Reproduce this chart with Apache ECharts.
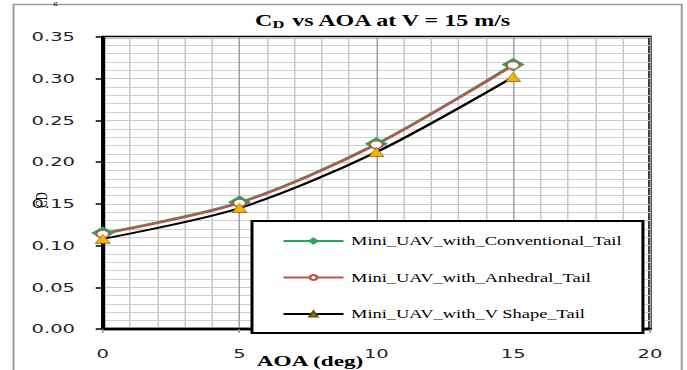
<!DOCTYPE html>
<html>
<head>
<meta charset="utf-8">
<title>CD vs AOA</title>
<script src="https://cdn.jsdelivr.net/npm/echarts@6.0.0/dist/echarts.min.js"></script>
<style>
  html, body { margin: 0; padding: 0; background: #fff; overflow: hidden; width: 687px; height: 370px; }
  /* the chart is laid out on a narrower canvas and widened horizontally */
  #chart { width: 458px; height: 370px; transform: scaleX(1.5); transform-origin: 0 0; }
</style>
</head>
<body>
<div id="chart"></div>
<script>
// Angle of attack (deg)
const aoa = [0, 5, 10, 15];
// Drag coefficient for each tail configuration
const cdConventional = [0.115, 0.152, 0.222, 0.317];
const cdAnhedral     = [0.114, 0.151, 0.221, 0.316];
const cdVShape       = [0.108, 0.145, 0.212, 0.302];

const seriesNames = [
  'Mini_UAV_with_Conventional_Tail',
  'Mini_UAV_with_Anhedral_Tail',
  'Mini_UAV_with_V Shape_Tail'
];

const pairs = (ys) => aoa.map((x, i) => [x, ys[i]]);

const chart = echarts.init(document.getElementById('chart'), null, { renderer: 'svg' });

const serif = "'Liberation Serif', 'Times New Roman', serif";

chart.setOption({
  animation: false,
  backgroundColor: '#fff',
  grid: {
    left: 68.5, right: 24.7, top: 37, bottom: 41,
    show: true, borderColor: '#000', borderWidth: 2.3, backgroundColor: 'transparent'
  },
  graphic: [
    { type: 'rect', z: -10, silent: true,
      shape: { x: 9, y: 4.5, width: 445.5, height: 400 },
      style: { fill: 'none', stroke: '#9a9a9a', lineWidth: 1.3 } },
    { type: 'text', x: 37, y: 0, silent: true,
      style: { text: 'g', font: '6px ' + serif, fill: '#000', align: 'center', verticalAlign: 'top' } },
    { type: 'text', x: 255.7, y: 21, silent: true,
      style: {
        text: '{a|C}{b|D}{a| vs AOA at V = 15 m/s}',
        align: 'center', verticalAlign: 'middle', fill: '#000',
        rich: {
          a: { fontFamily: 'Liberation Serif', fontWeight: 'bold', fontSize: 16, lineHeight: 18, fill: '#000' },
          b: { fontFamily: 'Liberation Serif', fontWeight: 'bold', fontSize: 11, lineHeight: 11, verticalAlign: 'bottom', fill: '#000' }
        }
      } },
    { type: 'text', x: 206.7, y: 361, silent: true,
      style: { text: 'AOA (deg)', font: 'bold 15.5px ' + serif, fill: '#000', align: 'center', verticalAlign: 'middle' } },
    { type: 'text', x: 28, y: 200, rotation: Math.PI / 2, silent: true,
      style: { text: 'CD', font: '11px ' + serif, fill: '#000', align: 'center', verticalAlign: 'middle' } }
  ],
  legend: {
    orient: 'vertical',
    left: 168, top: 221,
    padding: [13, 14, 12, 20],
    itemWidth: 40, itemHeight: 6, itemGap: 22.5,
    backgroundColor: '#fff',
    borderColor: '#000', borderWidth: 2,
    z: 10,
    textStyle: { fontFamily: 'Liberation Serif', fontSize: 12.3, color: '#000', lineHeight: 14 },
    data: seriesNames
  },
  xAxis: {
    type: 'value', min: 0, max: 20, interval: 5,
    axisLine: { show: true, onZero: false, lineStyle: { color: '#000', width: 2.3 } },
    axisTick: { show: true, length: 4, lineStyle: { color: '#999', width: 1 } },
    axisLabel: { margin: 18, fontFamily: 'DejaVu Sans', fontSize: 13, color: '#222' },
    splitLine: { show: true, lineStyle: { color: '#a0a0a0', width: 1 } },
    minorTick: { show: false, splitNumber: 5 },
    minorSplitLine: { show: true, lineStyle: { color: '#c8c8c8', width: 1 } }
  },
  yAxis: {
    type: 'value', min: 0, max: 0.35, interval: 0.05,
    axisLine: { show: true, onZero: false, lineStyle: { color: '#000', width: 2.3 } },
    axisTick: { show: true, length: 4.7, lineStyle: { color: '#000', width: 1.5 } },
    axisLabel: { margin: 18.5, fontFamily: 'DejaVu Sans', fontSize: 13, color: '#222',
                 formatter: (v) => v.toFixed(2) },
    splitLine: { show: true, lineStyle: { color: '#c8c8c8', width: 1 } },
    minorTick: { show: false, splitNumber: 5 },
    minorSplitLine: { show: true, lineStyle: { color: '#cfcfcf', width: 1 } }
  },
  series: [
    {
      name: seriesNames[0], type: 'line', smooth: 0.3,
      data: pairs(cdConventional),
      symbol: 'diamond', symbolSize: [14, 12],
      lineStyle: { color: '#1faa55', width: 2 },
      itemStyle: { color: '#1faa55', borderColor: '#1faa55', borderWidth: 1 }
    },
    {
      name: seriesNames[1], type: 'line', smooth: 0.3,
      data: pairs(cdAnhedral),
      symbol: 'circle', symbolSize: [8.5, 7.5],
      lineStyle: { color: '#c0504d', width: 2 },
      itemStyle: { color: '#fff', borderColor: '#c0504d', borderWidth: 1.2 }
    },
    {
      name: seriesNames[2], type: 'line', smooth: 0.3,
      data: pairs(cdVShape),
      symbol: 'triangle', symbolSize: [10, 9],
      lineStyle: { color: '#000', width: 2 },
      itemStyle: { color: '#f5b400', borderColor: '#6b5200', borderWidth: 0.5 }
    }
  ]
});
</script>
</body>
</html>
